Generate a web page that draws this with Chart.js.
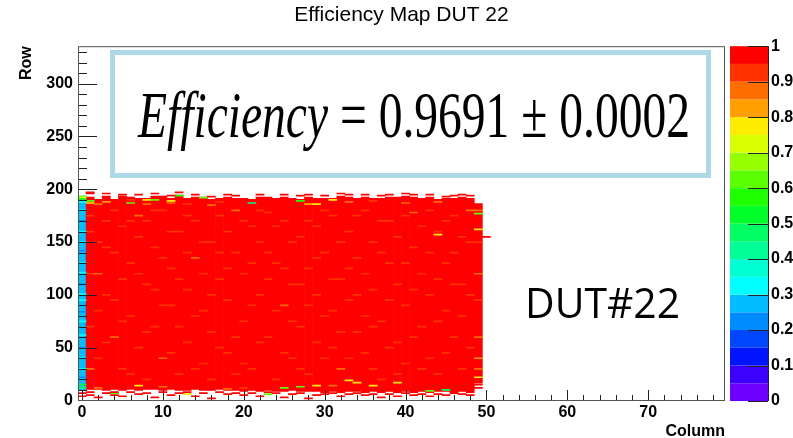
<!DOCTYPE html>
<html>
<head>
<meta charset="utf-8">
<title>Efficiency Map DUT 22</title>
<script src="https://cdn.jsdelivr.net/npm/chart.js@4/dist/chart.umd.min.js"></script>
<style>
  html, body { margin: 0; padding: 0; background: #fff; }
  #map { display: block; }
</style>
</head>
<body>
<canvas id="map" width="793" height="438"></canvas>
<script>
// DATA //

// pixel columns that saw tracks, with the first and last row of the filled block
const columns = [0, 1, 2, 3, 4, 5, 6, 7, 8, 9, 10, 11, 12, 13, 14, 15, 16, 17, 18, 19,
    20, 21, 22, 23, 24, 25, 26, 27, 28, 29, 30, 31, 32, 33, 34, 35, 36, 37, 38, 39,
    40, 41, 42, 43, 44, 45, 46, 47, 48, 49];
const colBottom = [10, 11, 11, 10, 11, 10, 11, 10, 11, 11, 10, 11, 10, 10, 11, 10, 10, 11, 10, 10,
    9, 10, 9, 10, 9, 9, 10, 9, 9, 9, 8, 9, 8, 9, 9, 8, 9, 8, 9, 8,
    9, 8, 9, 8, 9, 9, 8, 9, 8, 17];
const colTop = [193, 192, 190, 193, 190, 193, 192, 191, 191, 193, 193, 191, 194, 191, 192, 192, 190, 191, 192, 191,
    191, 190, 192, 192, 191, 192, 191, 190, 192, 191, 191, 191, 193, 192, 191, 192, 191, 191, 192, 192,
    193, 192, 191, 192, 190, 191, 191, 192, 191, 186];
const colEff = [0.28, 0.97, 0.97, 0.97, 0.97, 0.97, 0.97, 0.97, 0.97, 0.97, 0.97, 0.97, 0.97, 0.97, 0.97, 0.97, 0.97, 0.97, 0.97, 0.97,
    0.97, 0.97, 0.97, 0.97, 0.97, 0.97, 0.97, 0.97, 0.97, 0.97, 0.97, 0.97, 0.97, 0.97, 0.97, 0.97, 0.97, 0.97, 0.97, 0.97,
    0.97, 0.97, 0.97, 0.97, 0.97, 0.97, 0.97, 0.97, 0.97, 0.96];

// single pixels that differ from their column: [column, row, efficiency]
const lowCells = [
    [0, 193, 0.6], [0, 192, 0.72], [0, 191, 0.55], [0, 188, 0.33], [0, 180, 0.32], [0, 170, 0.22],
    [0, 160, 0.33], [0, 150, 0.31], [0, 142, 0.22], [0, 130, 0.32], [0, 121, 0.33], [0, 110, 0.22],
    [0, 101, 0.32], [0, 95, 0.33], [0, 84, 0.22], [0, 75, 0.32], [0, 62, 0.31], [0, 50, 0.22],
    [0, 40, 0.33], [0, 30, 0.32], [0, 22, 0.22], [0, 15, 0.5], [0, 12, 0.45],
    [1, 187, 0.78], [1, 189, 0.6], [2, 186, 0.88], [3, 188, 0.83], [6, 187, 0.62], [6, 190, 0.9],
    [8, 190, 0.78], [8, 186, 0.88], [9, 190, 0.62], [11, 189, 0.76], [11, 187, 0.85], [12, 194, 0.58],
    [13, 186, 0.9], [15, 192, 0.6], [16, 185, 0.86], [17, 188, 0.9], [21, 187, 0.4], [27, 189, 0.58],
    [28, 186, 0.82], [29, 186, 0.78], [31, 190, 0.77], [33, 188, 0.88], [36, 189, 0.9], [40, 187, 0.89],
    [44, 188, 0.86], [44, 157, 0.78], [49, 177, 0.6], [49, 162, 0.78], [49, 180, 0.86], [49, 150, 0.9],
    [49, 120, 0.88], [49, 95, 0.9], [49, 60, 0.87], [49, 40, 0.8], [49, 30, 0.86], [49, 22, 0.78],
    [27, 13, 0.6], [29, 14, 0.78], [31, 14, 0.88], [33, 19, 0.78], [34, 17, 0.78], [36, 14, 0.77],
    [39, 17, 0.78], [43, 9, 0.6], [45, 10, 0.45], [7, 14, 0.77], [4, 7, 0.6], [13, 6, 0.77],
    [23, 6, 0.6], [25, 12, 0.6], [2, 12, 0.88], [10, 13, 0.88], [18, 11, 0.86], [20, 12, 0.9]
];

// orange-red speckle inside the block: [column, row, efficiency]
const speckleCells = [
    [1, 175, 0.92], [1, 160, 0.92], [1, 120, 0.92], [1, 70, 0.92], [1, 30, 0.88], [2, 150, 0.92],
    [2, 120, 0.88], [2, 85, 0.92], [2, 40, 0.92], [3, 170, 0.92], [3, 100, 0.92], [3, 55, 0.92],
    [3, 145, 0.92], [4, 140, 0.92], [4, 60, 0.88], [4, 180, 0.92], [4, 95, 0.92], [5, 165, 0.92],
    [5, 30, 0.92], [5, 115, 0.92], [5, 75, 0.92], [6, 130, 0.92], [6, 80, 0.92], [6, 170, 0.92],
    [6, 25, 0.92], [7, 175, 0.88], [7, 50, 0.92], [7, 120, 0.92], [7, 155, 0.92], [8, 110, 0.92],
    [8, 20, 0.92], [8, 170, 0.92], [8, 65, 0.92], [9, 145, 0.92], [9, 70, 0.92], [9, 105, 0.92],
    [9, 180, 0.92], [10, 180, 0.92], [10, 40, 0.88], [10, 135, 0.92], [10, 90, 0.92], [11, 125, 0.92],
    [11, 90, 0.92], [11, 160, 0.92], [11, 45, 0.92], [12, 160, 0.92], [12, 25, 0.92], [12, 70, 0.92],
    [12, 115, 0.92], [13, 105, 0.92], [13, 55, 0.92], [13, 175, 0.92], [13, 140, 0.92], [14, 170, 0.92],
    [14, 135, 0.88], [14, 80, 0.92], [14, 30, 0.92], [15, 85, 0.92], [15, 35, 0.92], [15, 150, 0.92],
    [15, 120, 0.92], [16, 150, 0.92], [16, 65, 0.92], [16, 100, 0.92], [16, 20, 0.92], [17, 115, 0.92],
    [17, 175, 0.92], [17, 50, 0.92], [17, 140, 0.92], [18, 95, 0.92], [18, 45, 0.92], [18, 160, 0.92],
    [18, 125, 0.92], [19, 140, 0.92], [19, 180, 0.88], [19, 60, 0.92], [19, 25, 0.92], [20, 75, 0.92],
    [20, 120, 0.92], [20, 170, 0.92], [20, 35, 0.92], [21, 165, 0.92], [21, 30, 0.92], [21, 90, 0.92],
    [21, 130, 0.92], [22, 100, 0.92], [22, 150, 0.92], [22, 55, 0.92], [22, 180, 0.92], [23, 60, 0.92],
    [23, 178, 0.92], [23, 115, 0.92], [23, 140, 0.92], [24, 130, 0.92], [24, 20, 0.92], [24, 85, 0.92],
    [24, 165, 0.92], [25, 90, 0.88], [25, 170, 0.92], [25, 45, 0.92], [25, 125, 0.92], [26, 110, 0.92],
    [26, 40, 0.92], [26, 150, 0.92], [26, 75, 0.92], [27, 155, 0.92], [27, 70, 0.92], [27, 110, 0.92],
    [27, 30, 0.92], [28, 125, 0.92], [28, 25, 0.92], [28, 90, 0.92], [28, 170, 0.92], [29, 100, 0.92],
    [29, 165, 0.92], [29, 55, 0.92], [29, 135, 0.92], [30, 80, 0.92], [30, 140, 0.92], [30, 180, 0.92],
    [30, 40, 0.92], [31, 50, 0.92], [31, 175, 0.92], [31, 115, 0.92], [31, 85, 0.92], [32, 115, 0.92],
    [32, 30, 0.88], [32, 150, 0.92], [32, 65, 0.92], [33, 95, 0.92], [33, 160, 0.92], [33, 40, 0.92],
    [33, 125, 0.92], [34, 65, 0.92], [34, 135, 0.92], [34, 175, 0.92], [34, 100, 0.92], [35, 180, 0.92],
    [35, 45, 0.92], [35, 120, 0.92], [35, 80, 0.92], [36, 105, 0.92], [36, 150, 0.92], [36, 30, 0.92],
    [36, 70, 0.92], [37, 75, 0.92], [37, 20, 0.92], [37, 140, 0.92], [37, 170, 0.92], [38, 130, 0.92],
    [38, 170, 0.92], [38, 50, 0.92], [38, 95, 0.92], [39, 55, 0.92], [39, 110, 0.92], [39, 155, 0.92],
    [39, 25, 0.92], [40, 90, 0.92], [40, 35, 0.92], [40, 130, 0.92], [40, 175, 0.92], [41, 145, 0.92],
    [41, 178, 0.88], [41, 60, 0.92], [41, 105, 0.92], [42, 70, 0.92], [42, 120, 0.92], [42, 165, 0.92],
    [42, 30, 0.92], [43, 40, 0.92], [43, 100, 0.92], [43, 140, 0.92], [43, 180, 0.92], [44, 160, 0.92],
    [44, 25, 0.92], [44, 75, 0.92], [44, 115, 0.92], [45, 85, 0.92], [45, 130, 0.92], [45, 170, 0.92],
    [45, 45, 0.92], [46, 60, 0.92], [46, 175, 0.92], [46, 110, 0.92], [46, 140, 0.92], [47, 110, 0.92],
    [47, 30, 0.92], [47, 155, 0.92], [47, 80, 0.92], [48, 150, 0.92], [48, 50, 0.92], [48, 100, 0.92],
    [48, 180, 0.88]
];

// stray fully efficient pixels outside the filled block: [column, row]
const edgeCells = [
    [1, 196], [1, 197], [3, 196], [5, 195], [7, 195], [9, 196], [11, 194], [12, 197], [14, 195], [16, 193],
    [18, 195], [19, 194], [22, 195], [25, 195], [27, 194], [28, 195], [30, 194], [32, 196], [33, 195], [35, 195],
    [37, 194], [38, 195], [40, 196], [41, 195], [43, 195], [45, 193], [46, 194], [47, 195], [48, 194], [50, 155],
    [0, 7], [0, 4], [1, 8], [1, 5], [2, 3], [3, 7], [4, 8], [4, 5], [5, 4], [6, 8], [7, 6], [8, 7], [9, 3],
    [10, 8], [11, 5], [12, 7], [13, 8], [14, 4], [15, 7], [16, 2], [17, 8], [18, 6], [19, 7], [20, 5], [21, 7],
    [22, 4], [23, 8], [24, 7], [25, 3], [26, 6], [27, 7], [28, 2], [29, 5], [30, 6], [31, 7], [32, 4], [33, 6],
    [34, 7], [35, 5], [36, 6], [37, 3], [38, 6], [39, 4], [40, 7], [41, 5], [42, 6], [43, 4], [44, 6], [45, 5],
    [46, 7], [47, 6], [48, 5], [49, 15], [49, 12]
];

// tick labels
const xTicks = [0, 10, 20, 30, 40, 50, 60, 70];
const yTicks = [0, 50, 100, 150, 200, 250, 300];
const zTicks = [0, 0.1, 0.2, 0.3, 0.4, 0.5, 0.6, 0.7, 0.8, 0.9, 1];

// ROOT rainbow palette, 20 bands from 0 to 1
const paletteColors = ['#6e00ff', '#3c00ff', '#0014ff', '#0046ff', '#008cff', '#00beff', '#00ffff',
    '#00ffd2', '#00ff96', '#00ff64', '#00ff28', '#1eff00', '#5aff00', '#96ff00', '#d7ff00',
    '#ffeb00', '#ffa000', '#ff6e00', '#ff3200', '#ff0000'];

function effColor(e) {
    const i = Math.max(0, Math.min(19, Math.floor(e * 20 + 1e-9)));
    return paletteColors[i];
}

// DATASETS //

const blockData = columns.map((c, i) => ({ x: c, y: [colBottom[i] - 0.5, colTop[i] + 0.5] }));
const blockColors = colEff.map(effColor);

const pixelData = [];
const pixelColors = [];
speckleCells.concat(lowCells).forEach(([c, r, e]) => {
    pixelData.push({ x: c, y: [r - 0.5, r + 0.5] });
    pixelColors.push(effColor(e));
});
edgeCells.forEach(([c, r]) => {
    pixelData.push({ x: c, y: [r - 0.5, r + 0.5] });
    pixelColors.push(effColor(1));
});

// ROOT LOOK: frame, inner ticks, palette, text boxes //

const rootStyle = {
    id: 'rootStyle',
    afterDatasetsDraw(chart) {
        const { ctx, chartArea: a, scales } = chart;
        const x = scales.x, y = scales.y, z = scales.z;
        ctx.save();

        // ticks inside the frame
        ctx.strokeStyle = '#222';
        ctx.lineWidth = 1;
        ctx.beginPath();
        for (let v = 0; v <= 78; v += 2) {
            const px = Math.round(x.getPixelForValue(v)) + 0.5;
            const len = v % 10 === 0 ? 11 : 6;
            ctx.moveTo(px, a.bottom);
            ctx.lineTo(px, a.bottom - len);
        }
        for (let v = 0; v <= 330; v += 10) {
            const py = Math.round(y.getPixelForValue(v)) + 0.5;
            const len = v % 50 === 0 ? 19 : 9;
            ctx.moveTo(a.left, py);
            ctx.lineTo(a.left + len, py);
        }
        ctx.stroke();

        // frame
        ctx.strokeStyle = '#555';
        ctx.strokeRect(a.left + 0.5, a.top + 0.5, a.right - a.left - 1, a.bottom - a.top - 1);

        // colour palette
        const pl = z.left + 5, pr = z.left + 43;
        paletteColors.forEach((col, i) => {
            const t = z.getPixelForValue((i + 1) / 20);
            const b = z.getPixelForValue(i / 20);
            ctx.fillStyle = col;
            ctx.fillRect(pl, t, pr - pl, b - t);
        });
        ctx.strokeStyle = '#222';
        ctx.beginPath();
        zTicks.forEach(v => {
            const py = Math.round(z.getPixelForValue(v)) + 0.5;
            ctx.moveTo(pr - 20, py);
            ctx.lineTo(pr, py);
        });
        ctx.moveTo(pr + 0.5, a.top);
        ctx.lineTo(pr + 0.5, a.bottom);
        ctx.stroke();

        // efficiency box
        ctx.strokeStyle = '#add8e6';
        ctx.lineWidth = 5;
        ctx.strokeRect(112.5, 52.5, 596, 123);

        ctx.fillStyle = '#000';
        ctx.textBaseline = 'alphabetic';
        const part1 = 'Efficiency';
        const part2 = ' = 0.9691 \u00b1 0.0002';
        ctx.font = 'italic 65px "Liberation Serif"';
        const w1 = ctx.measureText(part1).width;
        ctx.font = '65px "Liberation Serif"';
        const w2 = ctx.measureText(part2).width;
        ctx.save();
        ctx.translate(138, 137);
        ctx.scale(552 / (w1 + w2), 1);
        ctx.font = 'italic 65px "Liberation Serif"';
        ctx.fillText(part1, 0, 0);
        ctx.font = '65px "Liberation Serif"';
        ctx.fillText(part2, w1, 0);
        ctx.restore();

        // DUT label
        ctx.font = '42px "Open Sans"';
        const dw = ctx.measureText('DUT#22').width;
        ctx.save();
        ctx.translate(525, 318);
        ctx.scale(155 / dw, 1);
        ctx.fillText('DUT#22', 0, 0);
        ctx.restore();

        ctx.restore();
    }
};

// CHART //

const tickFont = { family: '"Liberation Sans", Arial, sans-serif', size: 16, weight: 'bold' };

new Chart(document.getElementById('map'), {
    type: 'bar',
    data: {
        datasets: [{
            label: 'pixels',
            data: pixelData,
            backgroundColor: pixelColors,
            borderWidth: 0,
            grouped: false,
            barPercentage: 1,
            categoryPercentage: 1,
            order: 0
        }, {
            label: 'columns',
            data: blockData,
            backgroundColor: blockColors,
            borderWidth: 0,
            grouped: false,
            barPercentage: 1,
            categoryPercentage: 1,
            order: 1
        }]
    },
    options: {
        responsive: false,
        animation: false,
        devicePixelRatio: 1,
        layout: { padding: 0 },
        scales: {
            x: {
                type: 'linear',
                min: -0.5,
                max: 79.5,
                offset: false,
                grid: { display: false, drawTicks: false, offset: false },
                border: { display: false },
                afterBuildTicks: s => { s.ticks = xTicks.map(v => ({ value: v })); },
                ticks: { maxRotation: 0, autoSkip: false, padding: 2, color: '#000', font: tickFont },
                title: { display: true, text: 'Column', align: 'end', color: '#000',
                    padding: 0, font: { ...tickFont, lineHeight: 0.8 } },
                afterFit: s => { s.height = 37; }
            },
            y: {
                type: 'linear',
                min: -0.5,
                max: 335.5,
                grid: { display: false, drawTicks: false },
                border: { display: false },
                afterBuildTicks: s => { s.ticks = yTicks.map(v => ({ value: v })); },
                ticks: { autoSkip: false, padding: 5, color: '#000', font: tickFont },
                title: { display: true, text: 'Row', align: 'end', color: '#000',
                    padding: { top: 19, bottom: 0 }, font: { ...tickFont, lineHeight: 1 } },
                afterFit: s => { s.width = 78; }
            },
            z: {
                type: 'linear',
                position: 'right',
                min: 0,
                max: 1,
                grid: { display: false, drawTicks: true, tickLength: 43 },
                border: { display: false },
                afterBuildTicks: s => { s.ticks = zTicks.map(v => ({ value: v })); },
                ticks: { autoSkip: false, padding: 3, color: '#000', font: tickFont,
                    callback: v => String(v) },
                afterFit: s => { s.width = 68; }
            }
        },
        plugins: {
            legend: { display: false },
            tooltip: { enabled: false },
            title: {
                display: true,
                text: 'Efficiency Map DUT 22',
                fullSize: false,
                color: '#000',
                padding: { top: 3, bottom: 18 },
                font: { family: '"Liberation Sans", Arial, sans-serif', size: 21, weight: 'normal', lineHeight: 1.2 }
            }
        }
    },
    plugins: [rootStyle]
});
</script>
</body>
</html>
